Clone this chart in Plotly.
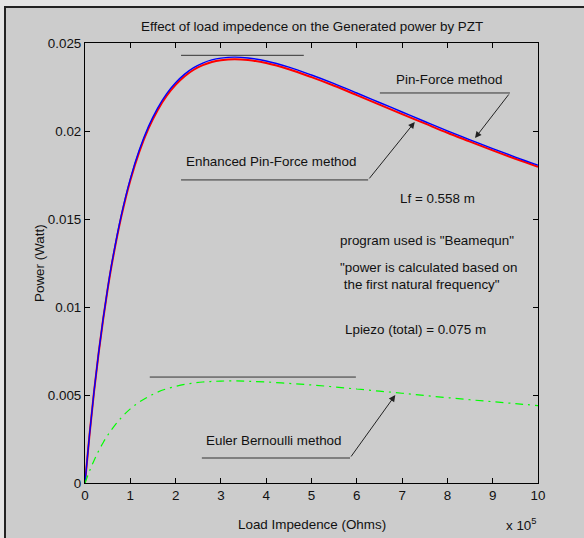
import plotly.graph_objects as go

# Load impedance in units of 1e5 Ohm
load_x = [0, 0.1, 0.2, 0.3, 0.4, 0.5, 0.6, 0.8, 1.0, 1.2, 1.4, 1.6, 1.8, 2.0, 2.2, 2.4,
          2.6, 2.8, 3.0, 3.3, 3.6, 4.0, 4.5, 5.0, 5.5, 6.0, 6.5, 7.0, 7.5, 8.0, 8.5,
          9.0, 9.5, 10.0]

pin_force = [0, 0.00276, 0.00522, 0.00739, 0.00933, 0.01106, 0.01260, 0.01520, 0.01728,
             0.01893, 0.02025, 0.02129, 0.02211, 0.02274, 0.02323, 0.02360, 0.02386,
             0.02404, 0.02414, 0.02420, 0.02415, 0.02398, 0.02363, 0.02318, 0.02269,
             0.02216, 0.02162, 0.02108, 0.02054, 0.02001, 0.01950, 0.01900, 0.01852,
             0.01806]

enhanced_pin_force = [0, 0.00275, 0.00520, 0.00736, 0.00929, 0.01101, 0.01254, 0.01512,
                      0.01719, 0.01883, 0.02014, 0.02117, 0.02199, 0.02262, 0.02311,
                      0.02348, 0.02374, 0.02392, 0.02402, 0.02408, 0.02403, 0.02386,
                      0.02351, 0.02306, 0.02257, 0.02204, 0.02150, 0.02096, 0.02043,
                      0.01990, 0.01940, 0.01890, 0.01842, 0.01797]

euler_bernoulli = [0, 0.00068, 0.00128, 0.00182, 0.00229, 0.00271, 0.00308, 0.00371,
                   0.00421, 0.00460, 0.00491, 0.00516, 0.00535, 0.00549, 0.00560,
                   0.00568, 0.00574, 0.00577, 0.00579, 0.00580, 0.00578, 0.00574,
                   0.00566, 0.00557, 0.00546, 0.00534, 0.00522, 0.00510, 0.00497,
                   0.00485, 0.00473, 0.00462, 0.00451, 0.00440]

x_ticks = [0, 1, 2, 3, 4, 5, 6, 7, 8, 9, 10]
y_ticks = [0, 0.005, 0.01, 0.015, 0.02, 0.025]
y_tick_labels = ["0", "0.005", "0.01", "0.015", "0.02", "0.025"]

FONT = "Liberation Sans, Arial, Helvetica, sans-serif"
FS = 13.4

fig = go.Figure()
fig.add_trace(go.Scatter(x=load_x, y=enhanced_pin_force, mode="lines",
                         line=dict(color="#ff0000", width=2), line_shape="spline",
                         name="Enhanced Pin-Force method"))
fig.add_trace(go.Scatter(x=load_x, y=pin_force, mode="lines",
                         line=dict(color="#0000ff", width=1.4), line_shape="spline",
                         name="Pin-Force method"))
fig.add_trace(go.Scatter(x=load_x, y=euler_bernoulli, mode="lines",
                         line=dict(color="#00ff00", width=1.2, dash="8px,5px,2px,5px"),
                         line_shape="spline", name="Euler Bernoulli method"))

L, R, T, B = 85, 46, 43, 55
W, H = 584, 538
pw, ph = W - L - R, H - T - B


def px(xp):
    return (xp - L) / pw


def py(yp):
    return (H - B - yp) / ph


shapes = [
    # window frame
    dict(type="rect", xref="paper", yref="paper", x0=px(5), x1=px(620), y0=py(580), y1=py(7),
         fillcolor="#cccccc", line=dict(color="#222222", width=2), layer="below"),
    # reference lines
    dict(type="line", xref="x", yref="y", x0=2.12, x1=4.83, y0=0.0243, y1=0.0243,
         line=dict(color="#333333", width=1)),
    dict(type="line", xref="x", yref="y", x0=1.43, x1=5.98, y0=0.00602, y1=0.00602,
         line=dict(color="#333333", width=1)),
    # underlines of labels
    dict(type="line", xref="x", yref="y", x0=2.12, x1=6.25, y0=0.01722, y1=0.01722,
         line=dict(color="#333333", width=1)),
    dict(type="line", xref="x", yref="y", x0=6.51, x1=9.38, y0=0.02216, y1=0.02216,
         line=dict(color="#333333", width=1)),
    dict(type="line", xref="x", yref="y", x0=2.58, x1=5.85, y0=0.00142, y1=0.00142,
         line=dict(color="#333333", width=1)),
]

ann = []


def text(x, y, s, xref="x", yref="y", **kw):
    d = dict(x=x, y=y, xref=xref, yref=yref, text=s, showarrow=False,
             xanchor="center", yanchor="middle",
             font=dict(family=FONT, size=FS, color="#111111"))
    d.update(kw)
    ann.append(d)


def arrow(x0, y0, x1, y1):
    ann.append(dict(x=x1, y=y1, ax=x0, ay=y0, xref="x", yref="y", axref="x", ayref="y",
                    text="", showarrow=True, arrowhead=2, arrowsize=1.3, arrowwidth=1,
                    arrowcolor="#222222", standoff=0))


text(4.11, 0.01824, "Enhanced Pin-Force method")
text(8.04, 0.0229, "Pin-Force method")
text(4.15, 0.00244, "Euler Bernoulli method")
text(7.79, 0.01619, "Lf = 0.558 m")
text(7.55, 0.0138, 'program used is "Beamequn"')
text(px(338), py(276), '"power is calculated based on<br> the first natural frequency"',
     xref="paper", yref="paper", xanchor="left", align="left")
text(7.3, 0.00875, "Lpiezo (total) = 0.075 m")

arrow(6.25, 0.01722, 7.28, 0.02051)
arrow(9.38, 0.02216, 8.61, 0.0196)
arrow(5.85, 0.00142, 6.85, 0.0050)

# titles
text(0.5, py(26), "Effect of load impedence on the Generated power by PZT",
     xref="paper", yref="paper")
text(0.5, py(524), "Load Impedence (Ohms)", xref="paper", yref="paper")
text(px(521), py(524), "x 10<sup>5</sup>", xref="paper", yref="paper")
text(px(39), 0.5, "Power (Watt)", xref="paper", yref="paper", textangle=-90)

axis_common = dict(showline=True, linecolor="#000000", linewidth=1, mirror="ticks",
                   ticks="inside", ticklen=5, tickcolor="#000000", showgrid=False,
                   zeroline=False, tickfont=dict(family=FONT, size=FS, color="#111111"))

fig.update_layout(
    width=W, height=H,
    margin=dict(l=L, r=R, t=T, b=B),
    paper_bgcolor="#e4e4e4",
    plot_bgcolor="#ffffff",
    showlegend=False,
    shapes=shapes,
    annotations=ann,
    xaxis=dict(range=[0, 10], tickvals=x_ticks, ticktext=[str(v) for v in x_ticks],
               **axis_common),
    yaxis=dict(range=[0, 0.025], tickvals=y_ticks, ticktext=y_tick_labels, **axis_common),
)

fig.write_html("out.html",
               config={"displayModeBar": False},
               post_script="document.body.style.margin='0px';"
                           "document.body.style.overflow='hidden';")
